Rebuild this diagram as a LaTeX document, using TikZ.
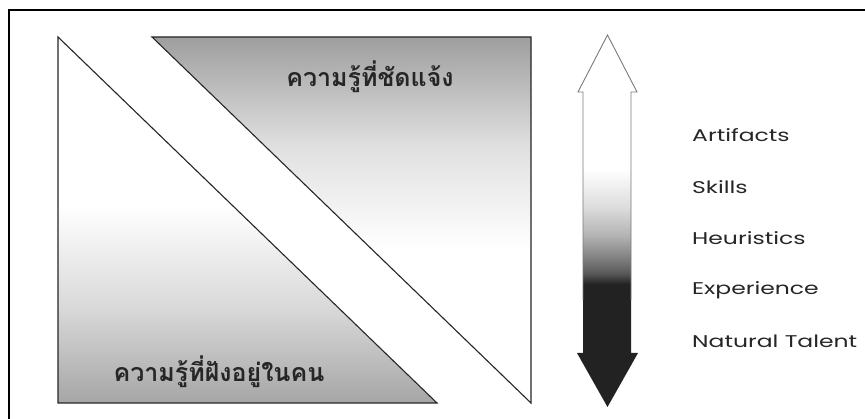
\documentclass[tikz,border=0pt]{standalone}
\usepackage{fontspec}
\usepackage{graphicx}
\newfontfamily\thaifont[Script=Thai]{Loma}
\newfontfamily\labfont{Poppins}
\definecolor{darkfill}{HTML}{222222}
\definecolor{edgegray}{HTML}{7A7A7A}
\pgfdeclareverticalshading{rightshade}{100bp}{color(0bp)=(white); color(46bp)=(white); color(60bp)=(black!12); color(75bp)=(black!38); color(100bp)=(black!38)}
\pgfdeclareverticalshading{leftshade}{100bp}{color(0bp)=(black!35); color(25bp)=(black!35); color(38bp)=(black!15); color(52bp)=(white); color(100bp)=(white)}
\pgfdeclareverticalshading{arrowshade}{100bp}{color(0bp)=(darkfill); color(41.5bp)=(darkfill); color(43bp)=(black!65); color(45bp)=(black!50); color(48bp)=(black!30); color(52bp)=(black!13); color(57bp)=(white); color(100bp)=(white)}
\tikzset{
  outline/.style={draw=black!85, line width=1.1pt, line join=miter},
  lab/.style={anchor=west, inner sep=0pt, font=\labfont\fontsize{17}{20}\selectfont, text=black!85},
  thai/.style={inner sep=0pt, font=\thaifont\bfseries\fontsize{25}{30}\selectfont, text=black!85},
}
\newcommand{\widelab}[1]{\scalebox{1.38}[1]{#1}}
\begin{document}
\begin{tikzpicture}[x=1pt,y=-1pt]
\useasboundingbox (0,0) rectangle (865,419);
\clip (0,0) rectangle (865,419);
\fill[white] (0,0) rectangle (865,419);
% outer frame
\draw[black, line width=1.4pt] (9,425) -- (9,10) -- (875,10);
% left triangle
\coordinate (lt) at (58,37);
\coordinate (lb) at (58,403);
\coordinate (lr) at (437,403);
\shade[shading=leftshade] (lt) -- (lb) -- (lr) -- cycle;
\draw[outline] (lt) -- (lb) -- (lr) -- cycle;
% right shape
\coordinate (rl) at (152,37);
\coordinate (rt) at (531,37);
\coordinate (rb) at (531,403);
\shade[shading=rightshade] (rl) -- (rt) -- (rb) -- cycle;
\draw[outline] (rl) -- (rt) -- (rb) -- cycle;
% texts
\node[thai] (explicit) at (370,77) {ความรู้ที่ชัดแจ้ง};
\node[thai] (tacit) at (219,372) {ความรู้ที่ฝังอยู่ในคน};
% double arrow
\coordinate (tip) at (607.5,35);
\coordinate (btip) at (607.5,407);
\shade[shading=arrowshade] (tip) -- (637,92) -- (631,92) -- (631,353) -- (638,353) -- (btip) -- (577,353) -- (583,353) -- (583,92) -- (578,92) -- cycle;
\draw[edgegray, line width=0.9pt] (583,300) -- (583,92) -- (578,92) -- (tip) -- (637,92) -- (631,92) -- (631,300);
% labels
\node[lab] (l1) at (692,135) {\widelab{Artifacts}};
\node[lab] (l2) at (692,187) {\widelab{Skills}};
\node[lab] (l3) at (692,238) {\widelab{Heuristics}};
\node[lab] (l4) at (692,290) {\widelab{Experience}};
\node[lab] (l5) at (692,341) {\widelab{Natural Talent}};
\end{tikzpicture}
\end{document}
